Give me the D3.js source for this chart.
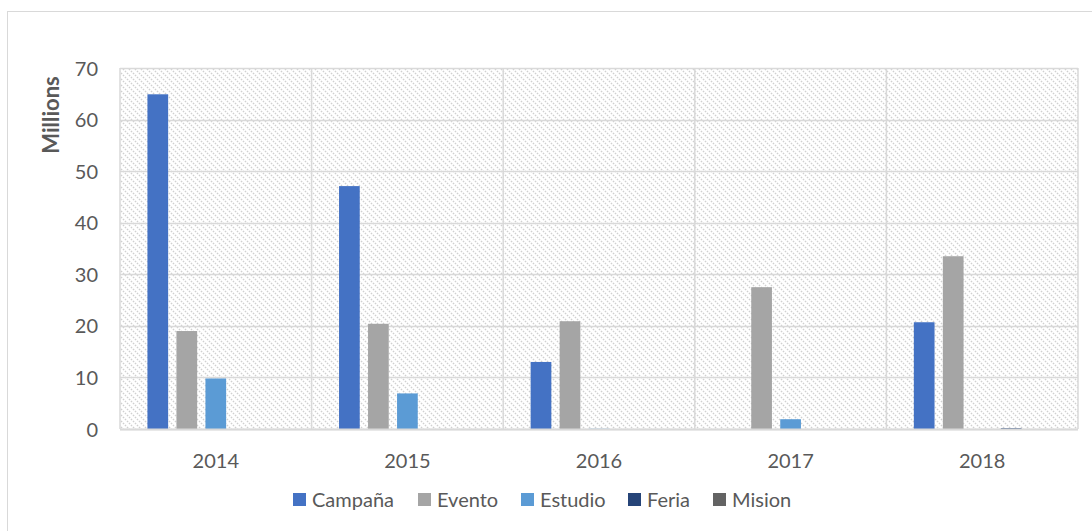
<!DOCTYPE html>
<html>
<head>
<meta charset="utf-8">
<script src="https://cdn.jsdelivr.net/npm/d3@7"></script>
<style>
  html, body { margin: 0; padding: 0; background: #fff; }
  svg { display: block; }
  text { font-family: Lato, "Open Sans", sans-serif; fill: #595959; }
</style>
</head>
<body>
<svg id="chart" width="1092" height="531"></svg>
<script>
// Annual spending by activity type (in millions)
const years = ["2014", "2015", "2016", "2017", "2018"];
const seriesNames = ["Campaña", "Evento", "Estudio", "Feria", "Mision"];
const campana = [64.9, 47.1, 13.0, 0, 20.7];
const evento  = [19.0, 20.4, 20.9, 27.5, 33.5];
const estudio = [9.8, 6.9, 0.05, 1.9, 0];
const feria   = [0, 0, 0, 0, 0.15];
const mision  = [0, 0, 0, 0, 0];
const yTicks  = [0, 10, 20, 30, 40, 50, 60, 70];
const colors  = ["#4472C4", "#A5A5A5", "#5B9BD5", "#264478", "#636363"];

const seriesValues = [campana, evento, estudio, feria, mision];
const rows = years.map((yr, i) => ({
  year: yr,
  values: seriesNames.map((s, j) => ({ series: s, value: seriesValues[j][i] }))
}));

const svg = d3.select("#chart");
const W = 1092, H = 531;
const plot = { left: 120, right: 1078, top: 68, bottom: 429 };
const fontSize = 20;

// Outer chart frame
svg.append("rect")
  .attr("x", 7.5).attr("y", 11.5)
  .attr("width", W).attr("height", H)
  .attr("fill", "#fff").attr("stroke", "#d9d9d9").attr("stroke-width", 1);

// Diagonal hatch fill for the plot area
const defs = svg.append("defs");
const pat = defs.append("pattern")
  .attr("id", "hatch").attr("patternUnits", "userSpaceOnUse")
  .attr("width", 6).attr("height", 6);
pat.append("rect").attr("width", 6).attr("height", 6).attr("fill", "#fff");
pat.append("path")
  .attr("d", "M-1,-1 L7,7 M-4,2 L2,8 M4,-2 L8,2")
  .attr("stroke", "#d0d0d0").attr("stroke-width", 1.4)
  .attr("stroke-dasharray", "1.6,1.2");

const x0 = d3.scaleBand().domain(years).range([plot.left, plot.right]).padding(0);
const x1 = d3.scaleBand().domain(seriesNames).range([0, x0.bandwidth()])
  .paddingInner(0.286).paddingOuter(0.946);
const y = d3.scaleLinear().domain([0, 70]).range([plot.bottom, plot.top]);
const color = d3.scaleOrdinal().domain(seriesNames).range(colors);

svg.append("rect")
  .attr("x", plot.left).attr("y", plot.top)
  .attr("width", plot.right - plot.left).attr("height", plot.bottom - plot.top)
  .attr("fill", "url(#hatch)");

// Horizontal gridlines
svg.append("g")
  .selectAll("line").data(yTicks).join("line")
  .attr("x1", plot.left).attr("x2", plot.right)
  .attr("y1", d => Math.round(y(d)) + 0.5).attr("y2", d => Math.round(y(d)) + 0.5)
  .attr("stroke", "#d9d9d9").attr("stroke-width", 1.5);

// Vertical category separators
const seps = years.map(yr => x0(yr)).concat([plot.right]);
svg.append("g")
  .selectAll("line").data(seps).join("line")
  .attr("x1", d => d).attr("x2", d => d)
  .attr("y1", plot.top).attr("y2", plot.bottom)
  .attr("stroke", "#d9d9d9").attr("stroke-width", 1.5);

// Bars
svg.append("g")
  .selectAll("g").data(rows).join("g")
  .attr("transform", d => `translate(${x0(d.year)},0)`)
  .selectAll("rect").data(d => d.values.filter(v => v.value > 0)).join("rect")
  .attr("x", d => x1(d.series))
  .attr("width", x1.bandwidth())
  .attr("y", d => y(d.value))
  .attr("height", d => Math.max(0.6, y(0) - y(d.value)))
  .attr("fill", d => color(d.series));

// Category axis baseline
svg.append("line")
  .attr("x1", plot.left).attr("x2", plot.right)
  .attr("y1", plot.bottom + 0.5).attr("y2", plot.bottom + 0.5)
  .attr("stroke", "#d9d9d9").attr("stroke-width", 2);

// Y axis labels
const yAxis = d3.axisLeft(y).tickValues(yTicks).tickSize(0).tickPadding(0);
const gy = svg.append("g").attr("transform", `translate(${plot.left - 22},0)`).call(yAxis);
gy.select(".domain").remove();
gy.selectAll("text")
  .attr("font-family", "Lato, 'Open Sans', sans-serif")
  .attr("font-size", fontSize).attr("fill", "#595959").attr("dy", "0.35em");

// X axis labels
const xAxis = d3.axisBottom(x0).tickSize(0).tickPadding(0);
const gx = svg.append("g").attr("transform", `translate(0,${plot.bottom + 24})`).call(xAxis);
gx.select(".domain").remove();
gx.selectAll("text")
  .attr("font-family", "Lato, 'Open Sans', sans-serif")
  .attr("font-size", fontSize).attr("fill", "#595959").attr("dy", "0.75em");

// Y axis title
svg.append("text")
  .attr("transform", "translate(59,115) rotate(-90)")
  .attr("text-anchor", "middle")
  .attr("font-size", 22).attr("font-weight", "bold")
  .text("Millions");

// Legend
const legendX = [293, 418, 521, 628, 713];
const lg = svg.append("g").selectAll("g").data(seriesNames).join("g")
  .attr("transform", (d, i) => `translate(${legendX[i]},493)`);
lg.append("rect").attr("width", 13).attr("height", 13).attr("fill", d => color(d));
lg.append("text").attr("x", 19).attr("y", 13.5).attr("font-size", fontSize).text(d => d);
</script>
</body>
</html>
